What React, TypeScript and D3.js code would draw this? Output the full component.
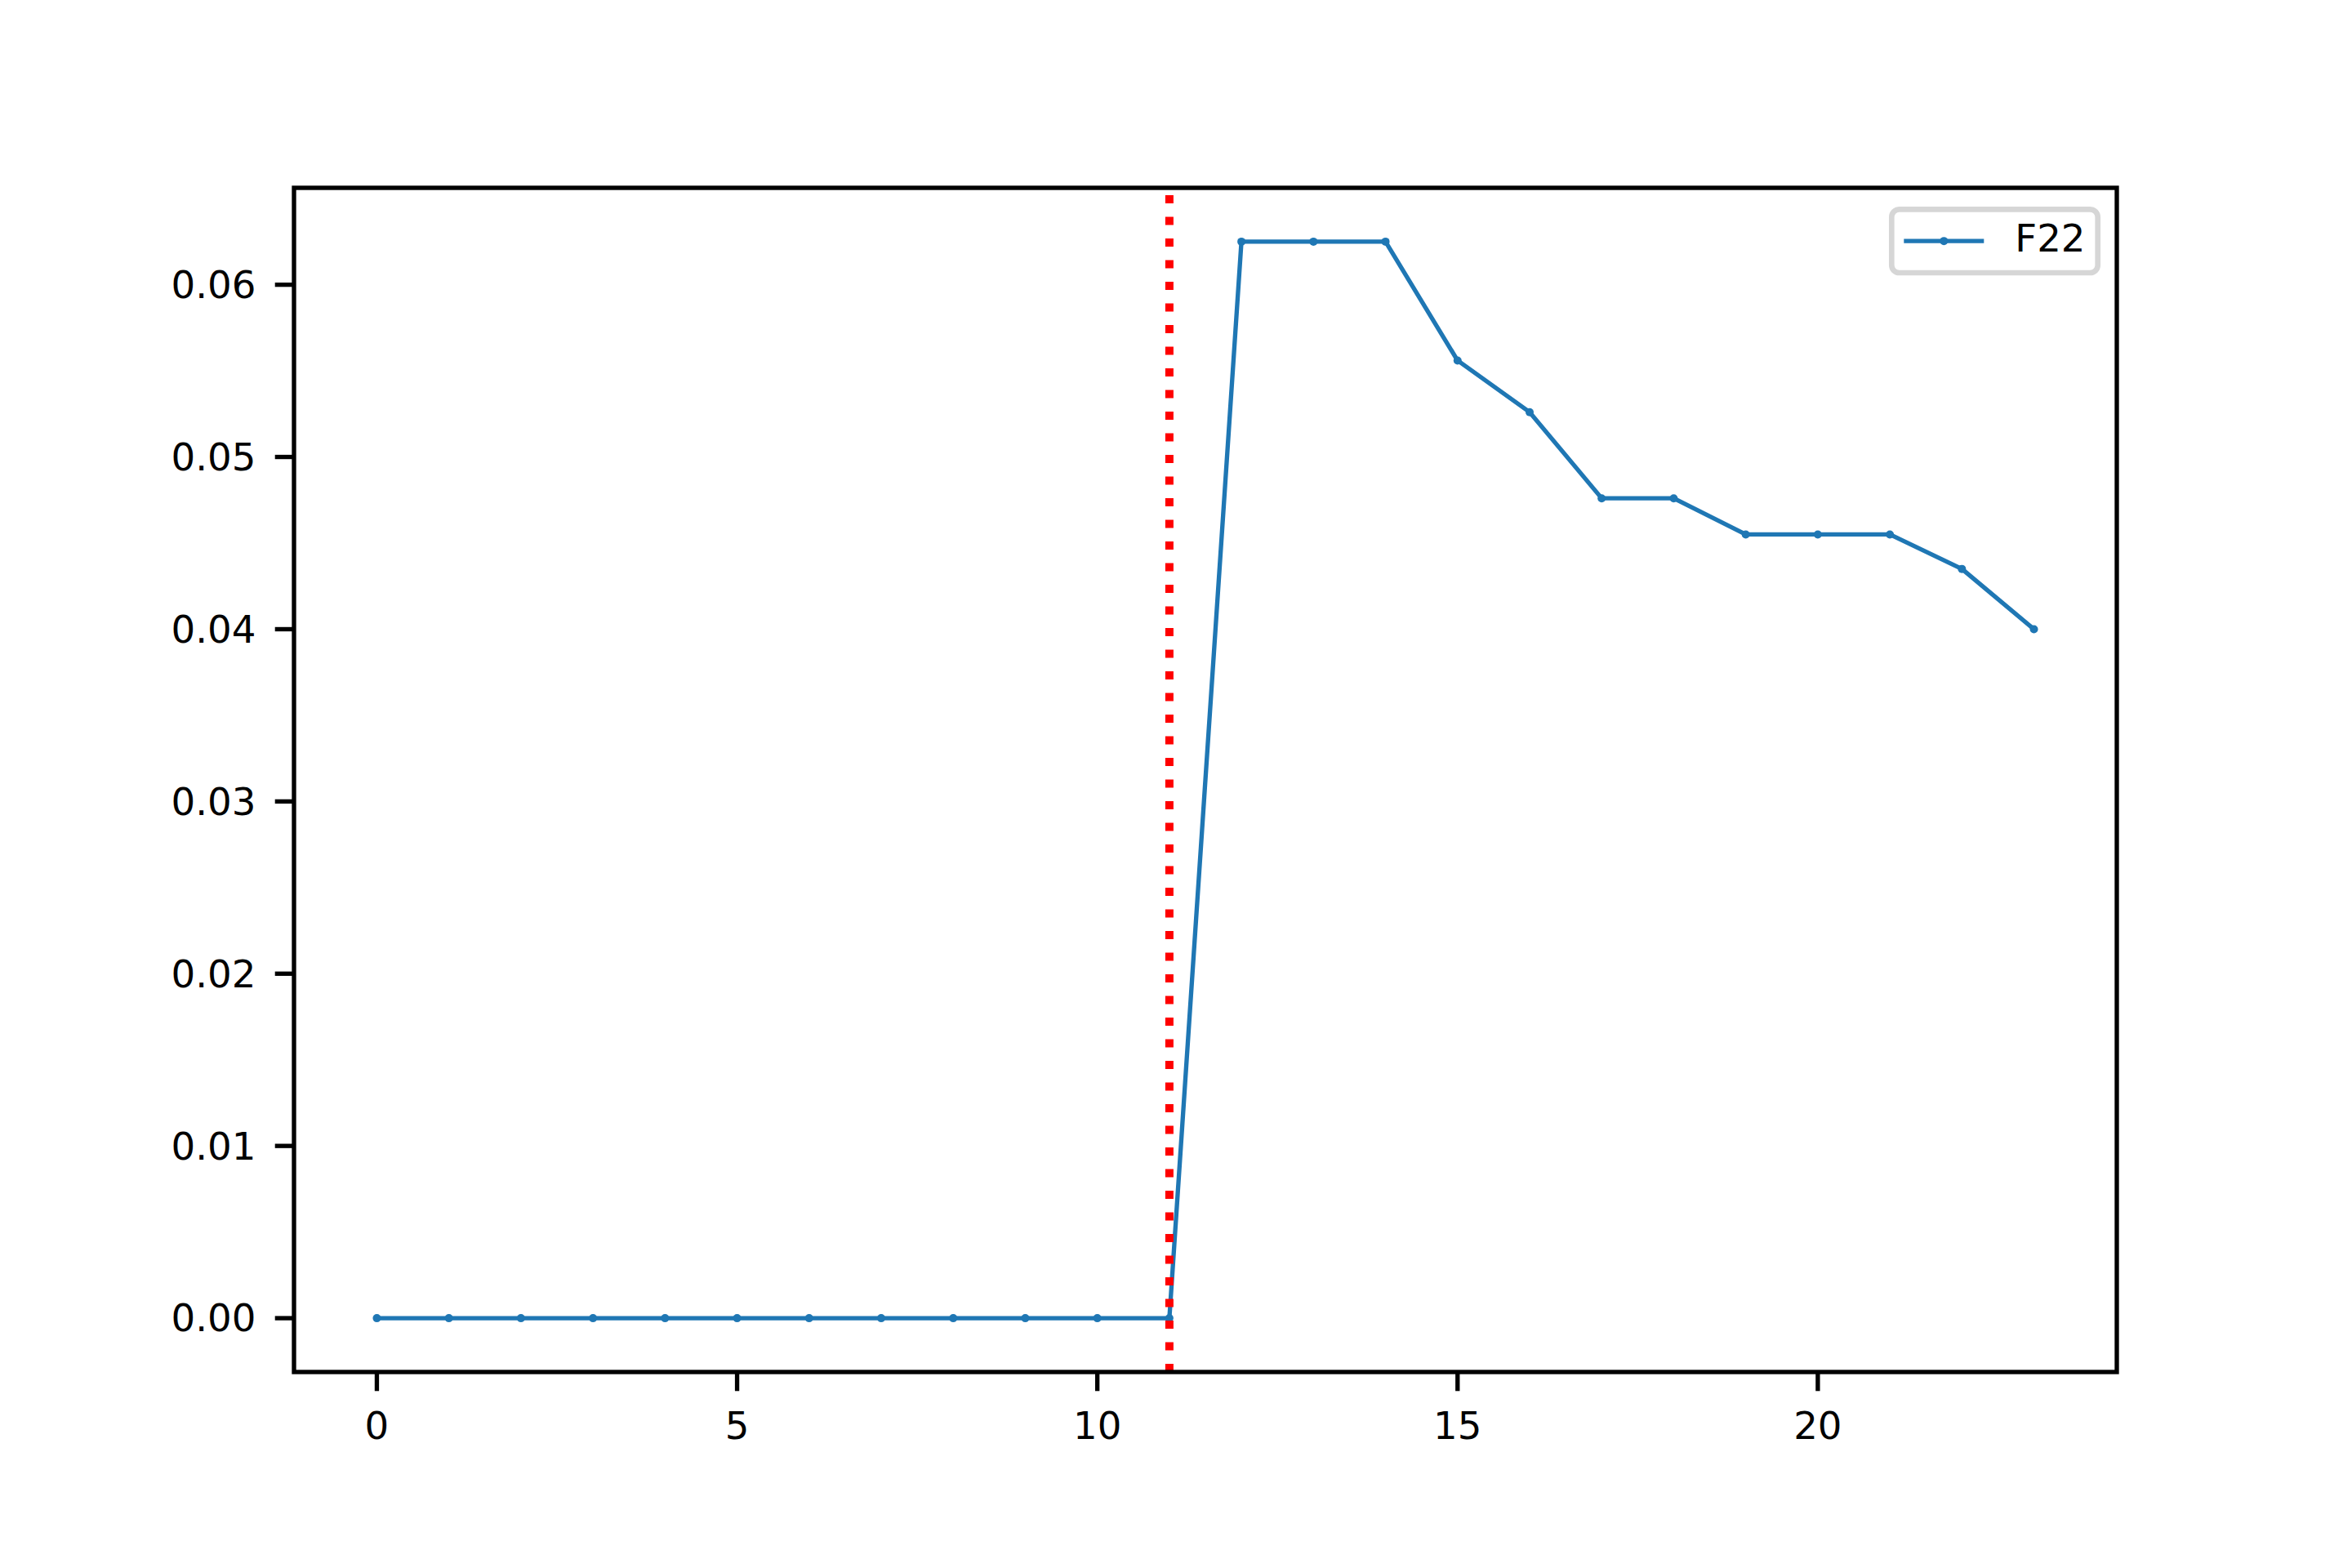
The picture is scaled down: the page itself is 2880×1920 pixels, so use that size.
import React from "react";
import * as d3 from "d3";

const xValues = [0, 1, 2, 3, 4, 5, 6, 7, 8, 9, 10, 11, 12, 13, 14, 15, 16, 17, 18, 19, 20, 21, 22, 23];
const f22Values = [0, 0, 0, 0, 0, 0, 0, 0, 0, 0, 0, 0, 0.0625, 0.0625, 0.0625, 0.0556, 0.0526, 0.0476, 0.0476, 0.0455, 0.0455, 0.0455, 0.0435, 0.04];
const xTicks = [0, 5, 10, 15, 20];
const yTicks = [0, 0.01, 0.02, 0.03, 0.04, 0.05, 0.06];
const seriesName = "F22";
const markerX = 11;

export default function App() {
  const W = 2880, H = 1920;
  const L = 360, R = 2592, T = 230, B = 1680;
  const fs = 46.67;
  const x = d3.scaleLinear().domain([-1.15, 24.15]).range([L, R]);
  const y = d3.scaleLinear().domain([-0.003125, 0.065625]).range([B, T]);
  const data = xValues.map((v, i) => [v, f22Values[i]] as [number, number]);
  const line = d3.line<[number, number]>().x(d => x(d[0])).y(d => y(d[1]));
  const blue = "#1f77b4";
  const lw = 5.33;
  const mr = 5;
  const tickLen = 23.3;
  const sw = 5.33;
  const font = "DejaVu Sans";
  const lgRight = R - 23.3, lgTop = T + 23.3;
  const lgW = 252.4, lgH = 77.7;
  const lgX = lgRight - lgW, lgY = lgTop + 3;
  const handleY = lgY + lgH / 2;
  return (
    <svg width={W} height={H} style={{ position: "absolute", left: 0, top: 0, background: "#fff" }} fontFamily={font}>
      <rect x={0} y={0} width={W} height={H} fill="#fff" />
      <defs>
        <clipPath id="ax"><rect x={L} y={T} width={R - L} height={B - T} /></clipPath>
      </defs>
      <g clipPath="url(#ax)">
        <path d={line(data) || ""} fill="none" stroke={blue} strokeWidth={lw} strokeLinejoin="round" strokeLinecap="square" />
        {data.map((d, i) => (
          <circle key={i} cx={x(d[0])} cy={y(d[1])} r={mr} fill={blue} />
        ))}
        <line x1={x(markerX)} x2={x(markerX)} y1={B} y2={T} stroke="#ff0000" strokeWidth={10} strokeDasharray="10 16.5" />
      </g>
      <rect x={L} y={T} width={R - L} height={B - T} fill="none" stroke="#000" strokeWidth={sw} strokeLinejoin="miter" />
      {xTicks.map(t => (
        <g key={"x" + t}>
          <line x1={x(t)} x2={x(t)} y1={B} y2={B + tickLen} stroke="#000" strokeWidth={sw} />
          <text x={x(t)} y={B + tickLen + 23.3 + 35.5} fontSize={fs} textAnchor="middle" fill="#000">{t}</text>
        </g>
      ))}
      {yTicks.map(t => (
        <g key={"y" + t}>
          <line x1={L - tickLen} x2={L} y1={y(t)} y2={y(t)} stroke="#000" strokeWidth={sw} />
          <text x={L - tickLen - 23.3} y={y(t) + 16.4} fontSize={fs} textAnchor="end" fill="#000">{t.toFixed(2)}</text>
        </g>
      ))}
      <rect x={lgX} y={lgY} width={lgW} height={lgH} rx={9.3} ry={9.3} fill="#fff" fillOpacity={0.8} stroke="#d6d6d6" strokeWidth={6.67} />
      <line x1={lgX + 15} x2={lgX + 15 + 98} y1={handleY} y2={handleY} stroke={blue} strokeWidth={lw} />
      <circle cx={lgX + 15 + 49} cy={handleY} r={mr} fill={blue} />
      <text x={lgX + 151} y={lgY + 52} fontSize={fs} fill="#000">{seriesName}</text>
    </svg>
  );
}
